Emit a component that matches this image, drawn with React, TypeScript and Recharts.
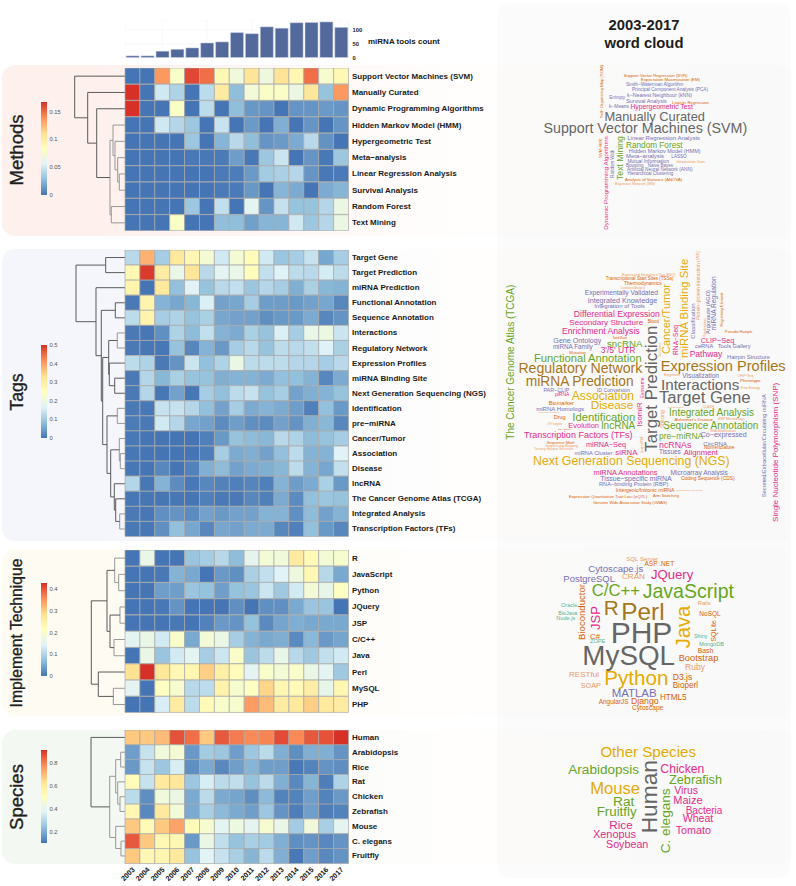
import React from "react";
import {
  Bar, BarChart, CartesianGrid, Cell, Scatter, ScatterChart, XAxis, YAxis,
} from "recharts";

const years = [2003, 2004, 2005, 2006, 2007, 2008, 2009, 2010, 2011, 2012, 2013, 2014, 2015, 2016, 2017];
const toolCounts = [6, 6, 23, 30, 35, 53, 57, 91, 87, 112, 107, 127, 128, 130, 110];

const methodRows = ["Support Vector Machines (SVM)", "Manually Curated", "Dynamic Programming Algorithms", "Hidden Markov Model (HMM)", "Hypergeometric Test", "Meta−analysis", "Linear Regression Analysis", "Survival Analysis", "Random Forest", "Text Mining"];
const methodValues = [
  [0, 0, 0.135, 0.078, 0.16, 0.148, 0.09, 0.07, 0.107, 0.068, 0.108, 0.092, 0.148, 0.076, 0.09],
  [0.167, 0, 0.05, 0.038, 0, 0.043, 0.102, 0.028, 0.072, 0.08, 0.08, 0.066, 0.105, 0.03, 0.135],
  [0.167, 0, 0, 0.08, 0, 0.043, 0, 0.028, 0.013, 0.012, 0, 0.012, 0.012, 0.014, 0.012],
  [0, 0, 0.05, 0.04, 0.032, 0, 0.047, 0, 0.014, 0, 0.022, 0, 0.012, 0, 0.012],
  [0, 0, 0, 0, 0.032, 0, 0.024, 0.042, 0.028, 0.012, 0.014, 0.02, 0.042, 0.011, 0],
  [0, 0, 0, 0, 0.001, 0.001, 0.002, 0.015, 0.001, 0.032, 0.048, 0, 0.012, 0.001, 0.032],
  [0, 0, 0, 0, 0, 0, 0.002, 0.003, 0.014, 0.034, 0.037, 0.04, 0.012, 0.001, 0.002],
  [0, 0, 0, 0, 0, 0, 0.002, 0.002, 0.013, 0, 0.024, 0.02, 0, 0.02, 0.024],
  [0, 0, 0, 0, 0.032, 0, 0.045, 0, 0.058, 0.012, 0.046, 0.03, 0.03, 0.04, 0.066],
  [0, 0, 0, 0.08, 0, 0, 0.028, 0.028, 0.016, 0.024, 0.024, 0.05, 0.032, 0.04, 0.066],
];

const tagRows = ["Target Gene", "Target Prediction", "miRNA Prediction", "Functional Annotation", "Sequence Annotation", "Interactions", "Regulatory Network", "Expression Profiles", "miRNA Binding Site", "Next Generation Sequencing (NGS)", "Identification", "pre−miRNA", "Cancer/Tumor", "Association", "Disease", "lncRNA", "The Cancer Genome Atlas (TCGA)", "Integrated Analysis", "Transcription Factors (TFs)"];
const tagValues = [
  [0.125, 0.38, 0.105, 0.31, 0.27, 0.22, 0.15, 0.22, 0.26, 0.15, 0.095, 0.105, 0.14, 0.055, 0.105],
  [0.27, 0.49, 0.3, 0.19, 0.32, 0.125, 0.175, 0.19, 0.255, 0.135, 0.165, 0.13, 0.125, 0.155, 0.13],
  [0.28, 0, 0.31, 0.085, 0.17, 0.09, 0.125, 0.135, 0.095, 0.12, 0.105, 0.065, 0.11, 0.075, 0.07],
  [0.005, 0.28, 0.07, 0.055, 0.075, 0.16, 0.05, 0.055, 0.105, 0.045, 0.045, 0.04, 0.05, 0.055, 0.02],
  [0.13, 0.28, 0.105, 0.115, 0.09, 0.11, 0.055, 0.05, 0.05, 0.03, 0.04, 0.04, 0.06, 0.02, 0.035],
  [0.005, 0.002, 0.03, 0.115, 0.08, 0.135, 0.07, 0.06, 0.11, 0.09, 0.16, 0.105, 0.19, 0.2, 0.145],
  [0.005, 0.002, 0.002, 0.09, 0.02, 0.07, 0.04, 0.105, 0.125, 0.09, 0.13, 0.125, 0.135, 0.165, 0.11],
  [0.13, 0.115, 0.005, 0.035, 0.145, 0.085, 0.115, 0.195, 0.13, 0.13, 0.13, 0.12, 0.12, 0.105, 0.125],
  [0.005, 0.12, 0.075, 0.11, 0.09, 0.09, 0.065, 0.07, 0.07, 0.06, 0.085, 0.085, 0.07, 0.02, 0.06],
  [0.005, 0.12, 0.002, 0.05, 0.002, 0.105, 0.085, 0.13, 0.14, 0.09, 0.105, 0.05, 0.065, 0.07, 0.09],
  [0.005, 0.003, 0.14, 0.14, 0.12, 0.085, 0.05, 0.105, 0.06, 0.07, 0.06, 0.045, 0.012, 0.085, 0.04],
  [0.008, 0.005, 0.15, 0.12, 0.055, 0.05, 0.025, 0.045, 0.03, 0.025, 0.05, 0.035, 0.065, 0.075, 0.02],
  [0.003, 0, 0, 0, 0, 0.012, 0.04, 0.09, 0.08, 0.075, 0.125, 0.115, 0.08, 0.09, 0.105],
  [0.002, 0, 0, 0, 0, 0.01, 0.105, 0.06, 0.065, 0.05, 0.085, 0.13, 0.07, 0.07, 0.17],
  [0.002, 0, 0.02, 0, 0.015, 0.065, 0.08, 0.05, 0.06, 0.065, 0.075, 0.13, 0.07, 0.055, 0.135],
  [0.12, 0.002, 0.07, 0.025, 0.003, 0.02, 0.015, 0.012, 0.018, 0.012, 0.07, 0.045, 0.06, 0.11, 0.04],
  [0.002, 0.001, 0.001, 0.002, 0.001, 0.012, 0.004, 0.005, 0.02, 0.012, 0.06, 0.025, 0.085, 0.095, 0.09],
  [0.005, 0.002, 0.03, 0.035, 0.025, 0.05, 0.04, 0.05, 0.05, 0.07, 0.07, 0.03, 0.08, 0.05, 0.07],
  [0.003, 0.002, 0.03, 0.085, 0.055, 0.02, 0.055, 0.05, 0.06, 0.06, 0.02, 0.012, 0.085, 0.04, 0.02],
];

const techRows = ["R", "JavaScript", "Python", "JQuery", "JSP", "C/C++", "Java", "Perl", "MySQL", "PHP"];
const techValues = [
  [0, 0.165, 0, 0, 0.08, 0.09, 0.105, 0.07, 0.155, 0.185, 0.18, 0.26, 0.225, 0.185, 0.195],
  [0, 0, 0.003, 0.06, 0.05, 0, 0.035, 0.025, 0.095, 0.115, 0.145, 0.175, 0.23, 0.105, 0.05],
  [0, 0, 0.04, 0.04, 0.08, 0.075, 0.04, 0.075, 0.08, 0.125, 0.085, 0.13, 0.185, 0.16, 0.21],
  [0, 0, 0.003, 0.03, 0, 0, 0, 0.025, 0, 0.025, 0.025, 0.05, 0.08, 0.08, 0],
  [0, 0, 0, 0.003, 0, 0.012, 0.035, 0.03, 0.075, 0.02, 0.045, 0.055, 0.05, 0.05, 0.05],
  [0.15, 0.165, 0.13, 0.2, 0.05, 0.185, 0.165, 0.09, 0.06, 0.05, 0.055, 0.02, 0.065, 0.035, 0.045],
  [0, 0.165, 0.08, 0.13, 0.15, 0.09, 0.125, 0.2, 0.08, 0.11, 0.16, 0.105, 0.085, 0.115, 0.13],
  [0.28, 0.43, 0.27, 0.23, 0.235, 0.3, 0.25, 0.22, 0.15, 0.2, 0.185, 0.2, 0.165, 0.15, 0.085],
  [0.15, 0, 0.21, 0.195, 0.105, 0.11, 0.245, 0.195, 0.21, 0.295, 0.235, 0.225, 0.255, 0.16, 0.235],
  [0, 0, 0.135, 0.26, 0.11, 0.225, 0.2, 0.195, 0.345, 0.315, 0.26, 0.265, 0.3, 0.265, 0.26],
];

const speciesRows = ["Human", "Arabidopsis", "Rice", "Rat", "Chicken", "Zebrafish", "Mouse", "C. elegans", "Fruitfly"];
const speciesValues = [
  [0.68, 0.68, 0.7, 0.86, 0.82, 0.68, 0.85, 0.8, 0.78, 0.79, 0.87, 0.78, 0.85, 0.86, 0.91],
  [0.18, 0.33, 0.44, 0.46, 0.17, 0.27, 0.26, 0.18, 0.26, 0.31, 0.21, 0.15, 0.21, 0.21, 0.16],
  [0.17, 0.33, 0.26, 0.36, 0.15, 0.2, 0.14, 0.18, 0.22, 0.18, 0.18, 0.11, 0.13, 0.16, 0.15],
  [0.52, 0.33, 0.6, 0.61, 0.26, 0.36, 0.31, 0.32, 0.25, 0.31, 0.21, 0.14, 0.22, 0.12, 0.29],
  [0.31, 0.15, 0.44, 0.42, 0.2, 0.31, 0.2, 0.19, 0.15, 0.23, 0.13, 0.13, 0.18, 0.13, 0.17],
  [0.54, 0.14, 0.6, 0.45, 0.2, 0.28, 0.23, 0.2, 0.18, 0.26, 0.16, 0.12, 0.18, 0.12, 0.13],
  [0.68, 0.53, 0.68, 0.74, 0.52, 0.47, 0.39, 0.43, 0.39, 0.47, 0.41, 0.27, 0.44, 0.28, 0.39],
  [0.85, 0.68, 0.54, 0.54, 0.17, 0.42, 0.32, 0.25, 0.28, 0.27, 0.21, 0.15, 0.16, 0.14, 0.16],
  [0.68, 0.54, 0.55, 0.6, 0.25, 0.38, 0.33, 0.28, 0.22, 0.31, 0.21, 0.11, 0.18, 0.14, 0.16],
];

// clustering trees: [merge height, left, right], a plain number is a row index
const methodTree = [50.3, 0, [37.3, 1, [28.3, 2, [15, [12, 3, [10, 4, [7.3, 5, [5.7, 6, 7]]]], [13.7, 8, 9]]]]];
const tagTree = [49, [19.3, 0, 1], [29, 2, [23.7, [9.7, 3, 4], [22.3,
  [16.3, [7.7, 5, 6], [15.7, 7, [10.3, 8, 9]]],
  [18, [7.7, 10, 11], [14.3, [5.7, 12, [4.7, 13, 14]], [10.7, 15, [9.3, 16, [5.3, 17, 18]]]]],
]]]];
const techTree = [33.7, [18, [10.3, 0, [6.3, 1, 2]], [15, [5, 3, 4], [11, 5, 6]]], [26.7, 7, [11.7, 8, 9]]];
const speciesTree = [34, 0, [15.3, [9.3, [4.3, 1, 2], [7.3, 3, [5, 4, 5]]], [9.3, 6, [4, 7, 8]]]];

// word cloud text, coordinates of each word are in the matching spot list below
const methodWords = ["Support Vector Machines (SVM)", "Manually Curated", "Hypergeometric Test", "k−Means", "Logistic Regression", "Survival Analysis", "k−Nearest Neighbour (kNN)", "Entropy", "Principal Component Analysis (PCA)", "Smith−Waterman Algorithm", "Expectation Maximization (EM)", "Support Vector Regression (SVR)", "Linear Regression Analysis", "Random Forest", "Hidden Markov Model (HMM)", "Meta−analysis", "LASSO", "Mutual Information", "Information Gain", "Boosting", "Naive Bayes", "Artificial Neural Network (ANN)", "Hierarchical Clustering", "Analysis of Variance (ANOVA)", "Bayesian Network (BN)", "Self−Organizing Map (SOM)", "SVM−RFE", "Dynamic Programming Algorithms", "Random Walk", "Text Mining"];
const methodSpots: any[] = [
  [160, 772, 385, "g"], [343, 645, 349, "g"], [421, 609, 320, "p"], [357, 417, 320, "u"], [546, 657, 306, "o"], [408, 531, 304, "u"], [411, 606, 286, "u"], [358, 405, 293, "u"], [425, 655, 267, "u"], [407, 581, 252, "u"], [453, 630, 238, "o"], [401, 593, 226, "o"], [411, 630, 414, "u"], [408, 578, 435, "n"], [416, 632, 452, "u"], [408, 522, 467, "u"], [544, 590, 468, "u"], [412, 537, 483, "u"], [559, 645, 485, "l"], [408, 461, 495, "u"], [473, 549, 495, "u"], [411, 608, 508, "u"], [412, 550, 519, "u"], [405, 577, 537, "o"], [375, 495, 551, "l"],
  [333, 195, 354, "o", 1], [330, 415, 473, "o", 1], [347, 408, 690, "p", 1], [367, 450, 533, "u", 1], [391, 408, 540, "n", 1],
];

const tagWords = ["Expressed Sequence Tag (EST)", "Transcriptional Start Sites (TSSs)", "Thermodynamics", "Correlation Analysis", "Experimentally Validated", "Integrated Knowledge", "Integration of Tools", "Differential Expression", "Secondary Structure", "Blood", "Enrichment Analysis", "Seed Match", "Gene Ontology", "sncRNA", "miRNA Family", "3'/5' UTR", "Mutation", "Functional Annotation", "Regulatory Network", "miRNA Prediction", "ID Conversion", "PAR−CLIP", "piRNA", "Association", "Disease", "Biomarker", "miRNA Homologs", "Reference Genome", "Drug", "Identification", "Off−targets", "RNA Editing", "Evolution", "lncRNA", "Transcription Factors (TFs)", "Sequence Motif", "Sequencing Mapping", "Tertiary Hairpin Structure", "miRNA−Seq", "miRNA Cluster", "siRNA", "Next Generation Sequencing (NGS)", "miRNA Annotations", "Microarray Analysis", "Tissue−specific miRNA", "Coding Sequence (CDS)", "RNA−binding Protein (RBP)", "Intergenic/Intronic miRNA", "Transposable Elements", "Expression Quantitative Trait Loci (eQTL)", "Arm Switching", "Genome Wide Association Study (GWAS)", "Expression Profiles", "Interactions", "Target Gene", "Visualization", "Epigenetic", "Pathway", "CLIP−Seq", "ceRNA", "Tools Gallery", "Hairpin Structure", "Pseudo Hairpin", "CHIP−Seq", "Phenotype", "Free Energy", "Integrated Analysis", "Sequence Annotation", "Alzheimer's Disease", "SNP Microarrays", "Method Mining", "CLASH", "pre−miRNA", "RNA Modification", "Co−expressed", "ncRNAs", "CircRNA", "Nomenclature", "Tissues", "Alignment",
  "The Cancer Genome Atlas (TCGA)", "Target Prediction", "Cancer/Tumor", "miRNA Binding Site", "RNA−Seq", "Classification", "Protein−protein Interaction (PPI)", "Argonaute (AGO)", "miRNA Regulation", "Regulatory Element", "Polyadenylation", "Exosome", "IsomiR", "Secretion", "Secreted/Extracellular/Circulating miRNA", "Single Nucleotide Polymorphism (SNP)", "Long ncRNA", "Splicing"];
const tagSpots: any[] = [
  [396, 557, 104, "l"], [347, 551, 115, "o"], [402, 515, 130, "o"], [391, 465, 145, "l"], [284, 504, 158, "u"], [293, 502, 182, "u"], [312, 465, 199, "u"], [251, 510, 221, "p"], [238, 460, 247, "p"], [473, 507, 243, "o"], [215, 450, 274, "p"], [368, 412, 294, "o"], [190, 334, 302, "u"], [351, 457, 311, "n"], [188, 309, 320, "u"], [332, 436, 331, "p"], [238, 288, 336, "o"], [131, 456, 354, "n"], [85, 457, 384, "b"], [106, 432, 425, "b"], [320, 420, 449, "u"], [160, 238, 450, "u"], [195, 238, 464, "p"], [245, 432, 469, "y"], [302, 430, 496, "y"], [176, 252, 489, "o"], [138, 283, 504, "u"], [145, 208, 518, "l"], [191, 227, 532, "o"], [247, 436, 530, "n"], [172, 217, 551, "l"], [204, 243, 567, "o"], [235, 327, 556, "p"], [334, 436, 557, "n"], [102, 428, 586, "p"], [170, 253, 606, "o"], [166, 265, 619, "l"], [132, 250, 628, "l"], [288, 408, 613, "p"], [253, 368, 640, "u"], [376, 442, 638, "p"], [129, 719, 664, "y"], [309, 504, 698, "p"], [541, 714, 696, "u"], [331, 545, 715, "u"], [573, 734, 714, "o"], [327, 535, 733, "u"], [377, 554, 751, "o"], [557, 637, 751, "l"], [236, 472, 768, "o"], [489, 567, 767, "o"], [308, 532, 787, "o"], [512, 887, 377, "b"], [513, 748, 433, "g"], [507, 782, 472, "g"], [577, 687, 407, "u"], [522, 572, 404, "l"], [599, 697, 341, "p"], [632, 733, 301, "p"], [615, 670, 318, "u"], [683, 782, 319, "u"], [711, 840, 351, "u"], [704, 787, 275, "o"], [742, 790, 407, "l"], [750, 812, 420, "o"], [752, 810, 445, "l"], [536, 793, 518, "n"], [519, 806, 555, "n"], [553, 669, 538, "o"], [683, 765, 538, "l"], [534, 580, 502, "l"], [638, 672, 502, "l"], [507, 640, 589, "n"], [659, 738, 573, "l"], [632, 770, 586, "u"], [507, 604, 615, "p"], [640, 711, 610, "u"], [642, 734, 622, "o"], [507, 572, 634, "u"], [581, 684, 637, "p"],
  [62, 133, 600, "n", 1], [484, 257, 635, "g", 1], [527, 132, 342, "y", 1], [581, 55, 355, "y", 1], [556, 255, 345, "p", 1], [610, 190, 296, "u", 1], [625, 32, 242, "l", 1], [653, 150, 282, "u", 1], [671, 108, 272, "u", 1], [696, 158, 260, "o", 1], [645, 235, 290, "l", 1], [456, 412, 475, "p", 1], [449, 487, 560, "p", 1], [509, 308, 350, "l", 1], [822, 462, 772, "u", 1], [858, 428, 846, "p", 1], [455, 590, 640, "l", 1], [515, 510, 565, "l", 1],
];

const techWords = ["SQL Server", "ASP .NET", "Cytoscape.js", "CRAN", "JQuery", "PostgreSQL", "C/C++", "JavaScript", "R", "Perl", "Oracle", "BioJava", "Node.js", "Rails", "NoSQL", "PHP", "MySQL", "C#", "ZOPE", "Shiny", "MongoDB", "Bash", "Bootstrap", "Ruby", "RESTful", "Python", "D3.js", "SOAP", "Bioperl", "MATLAB", "HTML5", "AngularJS", "Django", "Cytoscape", "Bioconductor", "JSP", "Java", "SQLite"];
const techSpots: any[] = [
  [408, 505, 56, "l"], [463, 553, 71, "o"], [295, 460, 84, "u"], [396, 465, 109, "l"], [483, 610, 102, "p"], [220, 375, 114, "u"], [305, 450, 150, "n"], [458, 732, 152, "n"], [341, 386, 203, "b"], [394, 524, 215, "b"], [213, 262, 196, "t"], [205, 262, 218, "t"], [199, 256, 235, "t"], [623, 662, 190, "l"], [628, 692, 220, "o"], [362, 547, 277, "g"], [277, 555, 345, "g"], [300, 330, 288, "o"], [300, 346, 304, "t"], [612, 652, 288, "t"], [627, 702, 313, "t"], [623, 670, 332, "o"], [566, 685, 353, "o"], [585, 645, 382, "l"], [237, 327, 403, "l"], [343, 535, 412, "y"], [548, 607, 410, "o"], [272, 333, 437, "l"], [548, 624, 436, "o"], [365, 500, 460, "u"], [510, 590, 473, "o"], [326, 416, 484, "o"], [423, 506, 482, "o"], [426, 520, 503, "o"],
  [275, 132, 300, "o", 1], [317, 198, 270, "p", 1], [580, 197, 325, "y", 1], [672, 240, 305, "o", 1],
];

const speciesWords = ["Other Species", "Arabidopsis", "Chicken", "Zebrafish", "Mouse", "Virus", "Rat", "Maize", "Fruitfly", "Bacteria", "Wheat", "Rice", "Tomato", "Xenopus", "Soybean", "Human", "C. elegans"];
const speciesSpots: any[] = [
  [331, 618, 93, "y"], [235, 447, 147, "n"], [511, 643, 146, "p"], [537, 696, 179, "n"], [301, 450, 204, "y"], [553, 624, 210, "p"], [369, 433, 243, "n"], [550, 638, 241, "p"], [320, 440, 275, "n"], [587, 697, 271, "p"], [578, 670, 294, "p"], [358, 428, 314, "p"], [557, 663, 330, "p"], [309, 438, 343, "p"], [348, 475, 373, "p"],
  [478, 120, 340, "g", 1], [526, 205, 400, "n", 1],
];

const wordColors: Record<string, string> = {
  g: "#666666", b: "#A6761D", y: "#E6AB02", n: "#66A61E", p: "#E7298A", u: "#7570B3", o: "#D95F02", l: "#EC9A62", t: "#4FB394",
};

const rampStops = [[69, 117, 180], [145, 191, 219], [224, 243, 248], [255, 255, 191], [254, 224, 144], [252, 141, 89], [215, 48, 39]];

function rampColor(t: number) {
  const p = Math.max(0, Math.min(1, t)) * (rampStops.length - 1);
  const i = Math.min(Math.floor(p), rampStops.length - 2);
  const f = p - i;
  const c = rampStops[i].map((v, k) => Math.round(v + (rampStops[i + 1][k] - v) * f));
  return `rgb(${c[0]},${c[1]},${c[2]})`;
}

const FONT = '"Liberation Sans", Arial, sans-serif';
const PLOT_LEFT = 124.5;
const PLOT_W = 223.5;
const LABEL_W = 150;
const GUTTER = 14;

const panels = [
  { title: "Methods", rows: methodRows, values: methodValues, tree: methodTree, top: 68, rowH: 16.3, min: 0, max: 0.167, ticks: [0, 0.05, 0.1, 0.15], barTop: 101.7, barBottom: 194.7, bgTop: 65, bgH: 171, tint: "#fef0ed", titleY: 150, titleSize: 18.5, dark: 20, words: methodWords, spots: methodSpots, cloudTop: 0, cloudH: 240 },
  { title: "Tags", rows: tagRows, values: tagValues, tree: tagTree, top: 250.2, rowH: 15.08, min: 0, max: 0.5, ticks: [0, 0.1, 0.2, 0.3, 0.4, 0.5], barTop: 345, barBottom: 438, bgTop: 249, bgH: 292, tint: "#f4f6fc", titleY: 392, titleSize: 17.7, dark: 8, words: tagWords, spots: tagSpots, cloudTop: 240, cloudH: 300 },
  { title: "Implement Technique", rows: techRows, values: techValues, tree: techTree, top: 550, rowH: 16.27, min: 0, max: 0.428, ticks: [0, 0.1, 0.2, 0.3, 0.4], barTop: 583, barBottom: 676, bgTop: 549, bgH: 167, tint: "#fefbf2", titleY: 633, titleSize: 15.7, dark: 12, words: techWords, spots: techSpots, cloudTop: 540, cloudH: 180 },
  { title: "Species", rows: speciesRows, values: speciesValues, tree: speciesTree, top: 730.3, rowH: 14.82, min: 0.105, max: 0.909, ticks: [0.2, 0.4, 0.6, 0.8], barTop: 750, barBottom: 843, bgTop: 730, bgH: 134, tint: "#f3f8f2", titleY: 796.5, titleSize: 18.5, dark: 20, words: speciesWords, spots: speciesSpots, cloudTop: 720, cloudH: 166 },
];

// turn a nested tree into the U shaped links of a dendrogram
function treeLinks(node: any, out: any[]): number {
  if (typeof node === "number") return node + 0.5;
  const [h, a, b] = node;
  const ya = treeLinks(a, out);
  const yb = treeLinks(b, out);
  const ha = typeof a === "number" ? 0 : a[0];
  const hb = typeof b === "number" ? 0 : b[0];
  out.push({ h, points: [{ x: ha, y: ya }, { x: h, y: ya }, { x: h, y: yb }, { x: hb, y: yb }] });
  return (ya + yb) / 2;
}

const sizeCache: Record<string, number> = {};
let measure: CanvasRenderingContext2D | null = null;

// font size that makes a word cover the given length
function fitSize(word: string, length: number) {
  if (!measure) {
    measure = document.createElement("canvas").getContext("2d");
    measure!.font = `100px ${FONT}`;
  }
  if (!sizeCache[word]) sizeCache[word] = measure!.measureText(word).width;
  return (100 * length) / sizeCache[word];
}

const NoPoint = () => <g />;

function Dendrogram({ panel }: { panel: any }) {
  const links: any[] = [];
  treeLinks(panel.tree, links);
  const width = 60;
  return (
    <div style={{ position: "absolute", left: PLOT_LEFT - width, top: panel.top }}>
      <ScatterChart width={width} height={panel.rows.length * panel.rowH} margin={{ top: 0, right: 0, bottom: 0, left: 0 }}>
        <XAxis type="number" dataKey="x" domain={[0, width]} reversed hide />
        <YAxis type="number" dataKey="y" domain={[0, panel.rows.length]} reversed hide />
        {links.map((l, i) => (
          <Scatter
            key={i}
            data={l.points}
            isAnimationActive={false}
            shape={NoPoint}
            line={{ stroke: l.h > panel.dark ? "#5a5a5a" : "#989898", strokeWidth: 1 }}
          />
        ))}
      </ScatterChart>
    </div>
  );
}

const YearTick = ({ x, y, payload }: any) => (
  <text
    x={x + 1}
    y={y + 5}
    textAnchor="end"
    dominantBaseline="central"
    fontFamily={FONT}
    fontWeight="bold"
    fontSize={7.2}
    fill="#111"
    transform={`rotate(-45 ${x + 1} ${y + 5})`}
  >
    {years[Math.floor(payload.value)]}
  </text>
);

// one line row label, the default tick would wrap long names
const RowTick = ({ x, y, payload }: any) => (
  <text
    x={x}
    y={y}
    textAnchor="start"
    dominantBaseline="central"
    fontFamily={FONT}
    fontWeight="bold"
    fontSize={8}
    fill="#1a1a1a"
  >
    {payload.value}
  </text>
);

function Heatmap({ panel, showYears }: { panel: any; showYears?: boolean }) {
  const table = panel.rows.map((name: string) => {
    const row: any = { name };
    years.forEach((y) => { row[`y${y}`] = 1; });
    return row;
  });
  const plotH = panel.rows.length * panel.rowH;
  const span = panel.max - panel.min;
  return (
    <div style={{ position: "absolute", left: PLOT_LEFT - GUTTER, top: panel.top }}>
      <BarChart
        layout="vertical"
        width={GUTTER + PLOT_W + LABEL_W}
        height={plotH + (showYears ? 24 : 0)}
        data={table}
        barCategoryGap={0}
        margin={{ top: 0, right: 0, bottom: 0, left: GUTTER }}
      >
        <XAxis
          type="number"
          domain={[0, years.length]}
          ticks={years.map((_, i) => i + 0.5)}
          hide={!showYears}
          height={24}
          axisLine={false}
          tickLine={false}
          tickSize={0}
          interval={0}
          tickMargin={0}
          tick={<YearTick />}
        />
        <YAxis
          type="category"
          dataKey="name"
          orientation="right"
          width={LABEL_W}
          interval={0}
          axisLine={false}
          tickLine={false}
          tickSize={0}
          tickMargin={3.5}
          tick={<RowTick />}
        />
        {years.map((y, j) => (
          <Bar key={y} dataKey={`y${y}`} stackId="tiles" isAnimationActive={false} stroke="#a9a9a9" strokeWidth={0.7}>
            {panel.values.map((row: number[], i: number) => (
              <Cell key={i} fill={rampColor((row[j] - panel.min) / span)} />
            ))}
          </Bar>
        ))}
      </BarChart>
    </div>
  );
}

function ColorBar({ panel }: { panel: any }) {
  const id = `ramp-${panel.title.replace(/\s/g, "")}`;
  const pad = 5;
  return (
    <div style={{ position: "absolute", left: 41, top: panel.barTop - pad }}>
      <BarChart
        width={36}
        height={panel.barBottom - panel.barTop + pad * 2}
        data={[{ name: panel.title, top: panel.max }]}
        barCategoryGap={0}
        margin={{ top: pad, right: 0, bottom: pad, left: 0 }}
      >
        <defs>
          <linearGradient id={id} x1="0" y1="1" x2="0" y2="0">
            {rampStops.map((_, i) => (
              <stop key={i} offset={`${(i * 100) / (rampStops.length - 1)}%`} stopColor={rampColor(i / (rampStops.length - 1))} />
            ))}
          </linearGradient>
        </defs>
        <XAxis dataKey="name" hide />
        <YAxis
          orientation="right"
          width={30}
          domain={[panel.min, panel.max]}
          ticks={panel.ticks}
          interval={0}
          axisLine={false}
          tickLine={false}
          tickSize={0}
          tickMargin={2.5}
          tick={{ fontFamily: FONT, fontSize: 5.8, fill: "#555" }}
        />
        <Bar dataKey="top" fill={`url(#${id})`} isAnimationActive={false} />
      </BarChart>
    </div>
  );
}

const WordShape = ({ cx, cy, payload }: any) => (
  <text
    x={cx}
    y={cy}
    textAnchor="middle"
    dominantBaseline="central"
    fontFamily={FONT}
    fontSize={fitSize(payload.word, payload.length / 3)}
    fill={payload.color}
    transform={payload.vertical ? `rotate(-90 ${cx} ${cy})` : undefined}
  >
    {payload.word}
  </text>
);

function WordCloud({ panel }: { panel: any }) {
  const items = panel.words.map((word: string, i: number) => {
    const [a, b, c, color, vertical] = panel.spots[i];
    return vertical
      ? { word, x: a, y: (b + c) / 2, length: c - b, color: wordColors[color], vertical: true }
      : { word, x: (a + b) / 2, y: c, length: b - a, color: wordColors[color], vertical: false };
  });
  return (
    <div style={{ position: "absolute", left: 490, top: panel.cloudTop }}>
      <ScatterChart width={306} height={panel.cloudH} margin={{ top: 0, right: 0, bottom: 0, left: 0 }}>
        <XAxis type="number" dataKey="x" domain={[0, 918]} hide />
        <YAxis type="number" dataKey="y" domain={[0, panel.cloudH * 3]} reversed hide />
        <Scatter data={items} isAnimationActive={false} shape={WordShape} />
      </ScatterChart>
    </div>
  );
}

function ToolCounts() {
  const table = years.map((year, i) => ({ year, count: toolCounts[i] }));
  return (
    <div style={{ position: "absolute", left: PLOT_LEFT, top: 20 }}>
      <BarChart
        width={PLOT_W + 20}
        height={42.5}
        data={table}
        barCategoryGap={1.2}
        margin={{ top: 0, right: 0, bottom: 5, left: 0 }}
      >
        <CartesianGrid stroke="#f1f1f1" strokeWidth={0.5} />
        <XAxis dataKey="year" hide />
        <YAxis
          orientation="right"
          width={20}
          domain={[0, 137]}
          ticks={[0, 50, 100]}
          interval={0}
          axisLine={false}
          tickLine={false}
          tickSize={0}
          tickMargin={4}
          tick={{ fontFamily: FONT, fontWeight: "bold", fontSize: 5.8, fill: "#222" }}
        />
        <Bar dataKey="count" fill="#54699b" stroke="#cdd5e6" strokeWidth={0.5} isAnimationActive={false} />
      </BarChart>
    </div>
  );
}

export default function App() {
  return (
    <div style={{ position: "absolute", left: 0, top: 0, width: 796, height: 886, background: "#fff", fontFamily: FONT, overflow: "hidden" }}>
      {panels.map((p) => (
        <div
          key={p.title}
          style={{
            position: "absolute", left: 2, width: 790, top: p.bgTop, height: p.bgH, borderRadius: 13,
            background: `linear-gradient(90deg, ${p.tint} 0%, ${p.tint} 12%, #fffefd 58%, #fdfdfd 100%)`,
          }}
        />
      ))}
      <div style={{ position: "absolute", left: 497, top: 3, width: 294, height: 875, borderRadius: 13, background: "rgba(170,170,170,0.05)" }} />

      <ToolCounts />
      <div style={{ position: "absolute", left: 368, top: 36.5, fontSize: 8, fontWeight: "bold", color: "#1a1a1a", whiteSpace: "nowrap" }}>
        miRNA tools count
      </div>
      <div style={{ position: "absolute", left: 544, width: 200, top: 15.5, textAlign: "center", fontSize: 14.8, lineHeight: "18px", fontWeight: "bold", color: "#1c1c1c" }}>
        2003-2017
        <br />
        word cloud
      </div>

      {panels.map((p, i) => (
        <React.Fragment key={p.title}>
          <div
            style={{
              position: "absolute", left: 17, top: p.titleY, fontSize: p.titleSize, color: "#1f1f1f", whiteSpace: "nowrap",
              WebkitTextStroke: "0.35px #1f1f1f",
              transform: "translate(-50%,-50%) rotate(-90deg)",
            }}
          >
            {p.title}
          </div>
          <Dendrogram panel={p} />
          <Heatmap panel={p} showYears={i === panels.length - 1} />
          <ColorBar panel={p} />
          <WordCloud panel={p} />
        </React.Fragment>
      ))}
    </div>
  );
}
